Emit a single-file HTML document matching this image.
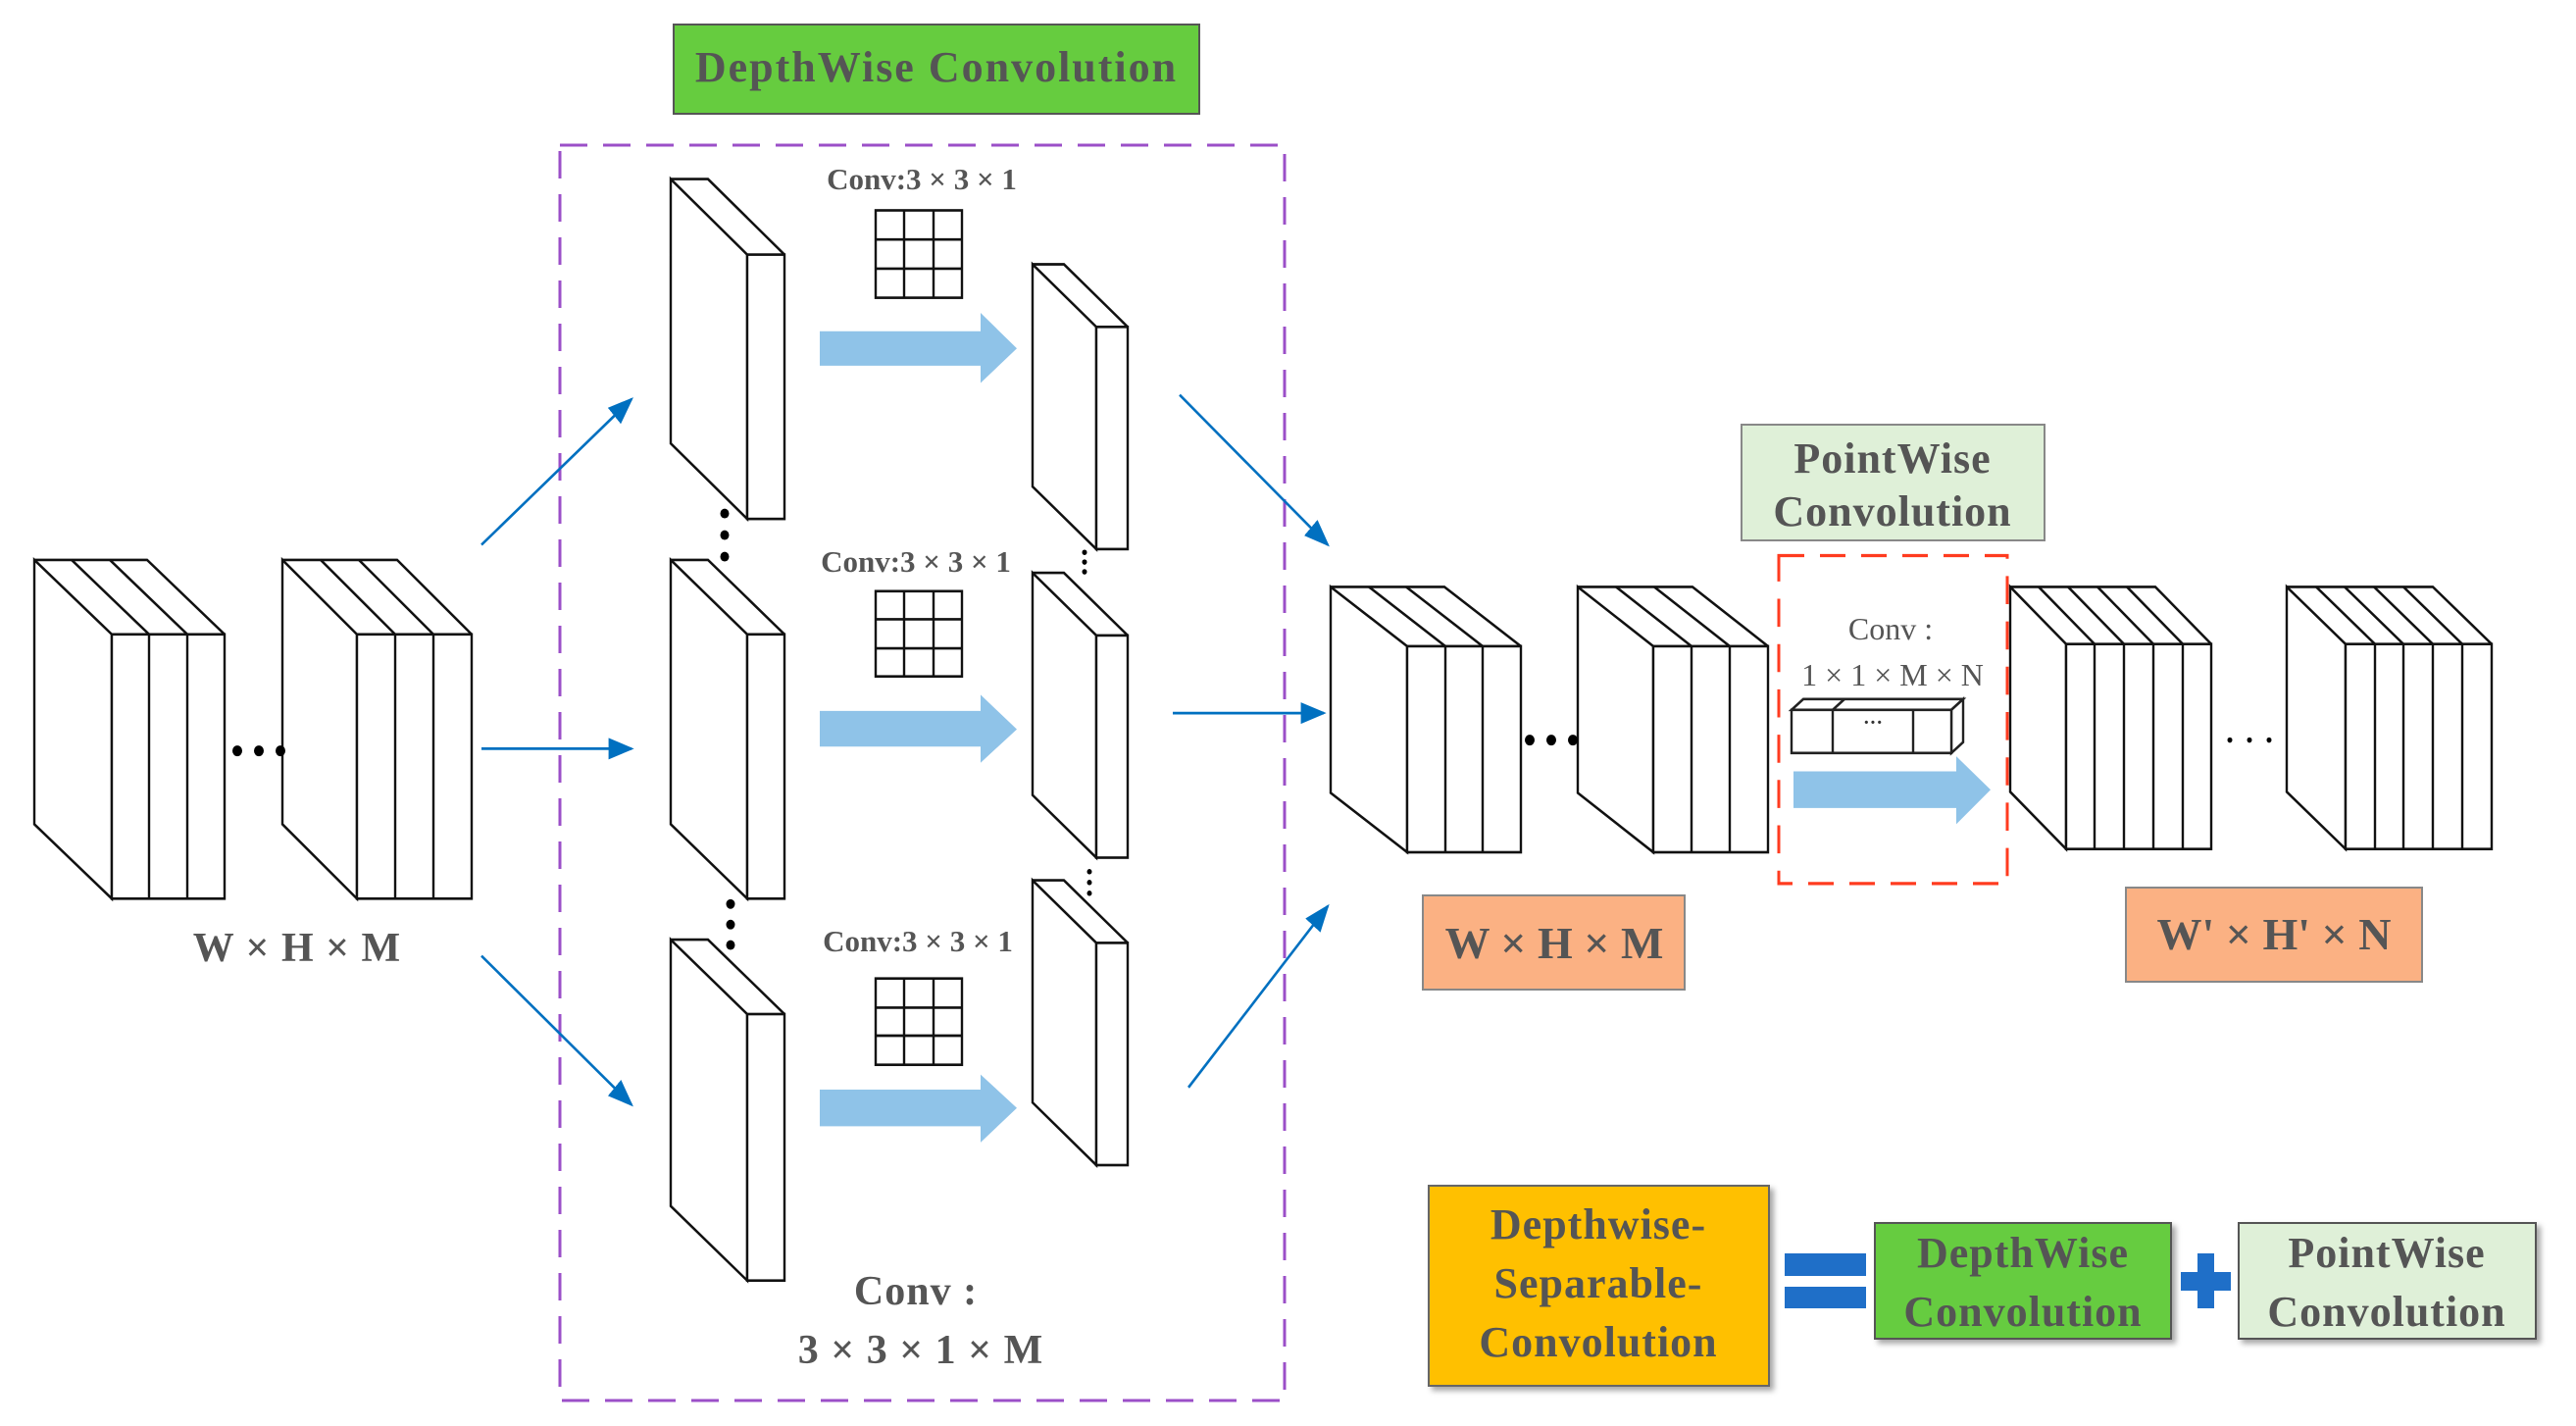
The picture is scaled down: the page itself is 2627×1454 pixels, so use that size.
<!DOCTYPE html>
<html><head><meta charset="utf-8"><style>
html,body{margin:0;padding:0;background:#fff}
svg{display:block}
text{font-family:"Liberation Serif",serif;font-weight:bold;fill:#555}
</style></head><body>
<svg width="2627" height="1454" viewBox="0 0 2627 1454" xmlns="http://www.w3.org/2000/svg">
<defs>
<marker id="ah2" viewBox="0 0 10 10" refX="9" refY="5" markerWidth="26" markerHeight="20" markerUnits="userSpaceOnUse" orient="auto" preserveAspectRatio="none"><path d="M0 0 L10 5 L0 10 Z" fill="#0070c0"/></marker>
<filter id="sh" x="-5%" y="-5%" width="115%" height="120%"><feDropShadow dx="4" dy="4" stdDeviation="3" flood-color="#000" flood-opacity="0.35"/></filter>
</defs>

<rect x="687" y="25" width="536" height="91" fill="#66cc3f" stroke="#555" stroke-width="2"/>
<text x="955" y="83" font-size="44" letter-spacing="2" text-anchor="middle">DepthWise Convolution</text>

<rect x="571" y="148" width="739" height="1280" fill="none" stroke="#9b4fc8" stroke-width="3" stroke-dasharray="28,16"/>

<g transform="scale(1,1.1)">
<g fill="#fff" stroke="#111" stroke-width="2.4" stroke-linejoin="miter">
<path d="M35 519 L114 588 L114 833 L35 764 Z"/>
<path d="M35 519 L150 519 L229 588" fill="none"/>
<rect x="114" y="588" width="115" height="245"/>
<path d="M152 588 V833 M191 588 V833 M73 519 L152 588 M112 519 L191 588" fill="none"/>
<path d="M288 519 L364 588 L364 833 L288 764 Z"/>
<path d="M288 519 L405 519 L481 588" fill="none"/>
<rect x="364" y="588" width="117" height="245"/>
<path d="M403 588 V833 M442 588 V833 M327 519 L403 588 M366 519 L442 588" fill="none"/>
<path d="M684 166 L762 236 L762 481 L684 411 Z"/>
<path d="M684 166 L722 166 L800 236" fill="none"/>
<rect x="762" y="236" width="38" height="245"/>
<path d="M684 519 L762 588 L762 833 L684 764 Z"/>
<path d="M684 519 L722 519 L800 588" fill="none"/>
<rect x="762" y="588" width="38" height="245"/>
<path d="M684 871 L762 940 L762 1187 L684 1118 Z"/>
<path d="M684 871 L722 871 L800 940" fill="none"/>
<rect x="762" y="940" width="38" height="247"/>
<path d="M1053 245 L1118 303 L1118 509 L1053 451 Z"/>
<path d="M1053 245 L1085 245 L1150 303" fill="none"/>
<rect x="1118" y="303" width="32" height="206"/>
<path d="M1053 531 L1118 589 L1118 795 L1053 737 Z"/>
<path d="M1053 531 L1085 531 L1150 589" fill="none"/>
<rect x="1118" y="589" width="32" height="206"/>
<path d="M1053 816 L1118 874 L1118 1080 L1053 1022 Z"/>
<path d="M1053 816 L1085 816 L1150 874" fill="none"/>
<rect x="1118" y="874" width="32" height="206"/>
<path d="M1357 544 L1435 599 L1435 790 L1357 735 Z"/>
<path d="M1357 544 L1473 544 L1551 599" fill="none"/>
<rect x="1435" y="599" width="116" height="191"/>
<path d="M1474 599 V790 M1512 599 V790 M1396 544 L1474 599 M1434 544 L1512 599" fill="none"/>
<path d="M1609 544 L1686 599 L1686 790 L1609 735 Z"/>
<path d="M1609 544 L1726 544 L1803 599" fill="none"/>
<rect x="1686" y="599" width="117" height="191"/>
<path d="M1725 599 V790 M1764 599 V790 M1648 544 L1725 599 M1687 544 L1764 599" fill="none"/>
<path d="M2050 544 L2107 597 L2107 787 L2050 734 Z"/>
<path d="M2050 544 L2198 544 L2255 597" fill="none"/>
<rect x="2107" y="597" width="148" height="190"/>
<path d="M2136 597 V787 M2166 597 V787 M2196 597 V787 M2226 597 V787 M2079 544 L2136 597 M2109 544 L2166 597 M2139 544 L2196 597 M2169 544 L2226 597" fill="none"/>
<path d="M2332 544 L2392 597 L2392 787 L2332 734 Z"/>
<path d="M2332 544 L2481 544 L2541 597" fill="none"/>
<rect x="2392" y="597" width="149" height="190"/>
<path d="M2422 597 V787 M2451 597 V787 M2481 597 V787 M2511 597 V787 M2362 544 L2422 597 M2391 544 L2451 597 M2421 544 L2481 597 M2451 544 L2511 597" fill="none"/>
</g>

<g fill="#fff" stroke="#111" stroke-width="2.4">
<rect x="893" y="195" width="88" height="81"/><path d="M922 195V276M952 195V276M893 222H981M893 249H981"/>
<rect x="893" y="548" width="88" height="79"/><path d="M922 548V627M952 548V627M893 574H981M893 601H981"/>
<rect x="893" y="907" width="88" height="80"/><path d="M922 907V987M952 907V987M893 934H981M893 960H981"/>
</g>

<g fill="#000">
<circle cx="242" cy="696" r="5"/><circle cx="264" cy="696" r="5"/><circle cx="286" cy="696" r="5"/>
<circle cx="1560" cy="686" r="5"/><circle cx="1582" cy="686" r="5"/><circle cx="1604" cy="686" r="5"/>
<circle cx="2274" cy="686" r="2.5"/><circle cx="2294" cy="686" r="2.5"/><circle cx="2314" cy="686" r="2.5"/>
<circle cx="739" cy="476" r="4.5"/><circle cx="739" cy="496" r="4.5"/><circle cx="739" cy="516" r="4.5"/>
<circle cx="745" cy="838" r="4.5"/><circle cx="745" cy="857" r="4.5"/><circle cx="745" cy="876" r="4.5"/>
<circle cx="1106" cy="512" r="2.5"/><circle cx="1106" cy="521" r="2.5"/><circle cx="1106" cy="530" r="2.5"/>
<circle cx="1111" cy="808" r="2.5"/><circle cx="1111" cy="818" r="2.5"/><circle cx="1111" cy="828" r="2.5"/>
</g>

<g fill="#8fc3e8">
<path d="M836 307 H1000 V290 L1037 323 L1000 355 V339 H836 Z"/>
<path d="M836 659 H1000 V644 L1037 676 L1000 707 V692 H836 Z"/>
<path d="M836 1010 H1000 V996 L1037 1027 L1000 1059 V1044 H836 Z"/>
<path d="M1829 715 H1995 V701 L2030 732 L1995 764 V749 H1829 Z"/>
</g>

<g stroke="#0070c0" stroke-width="2.5" fill="none">
<line x1="491" y1="505" x2="644" y2="370" marker-end="url(#ah2)"/>
<line x1="491" y1="694" x2="644" y2="694" marker-end="url(#ah2)"/>
<line x1="491" y1="886" x2="644" y2="1024" marker-end="url(#ah2)"/>
<line x1="1203" y1="366" x2="1354" y2="505" marker-end="url(#ah2)"/>
<line x1="1196" y1="661" x2="1350" y2="661" marker-end="url(#ah2)"/>
<line x1="1212" y1="1008" x2="1354" y2="840" marker-end="url(#ah2)"/>
</g>

<rect x="1814" y="515" width="233" height="304" fill="none" stroke="#ff3b1f" stroke-width="3" stroke-dasharray="26,16"/>
<g fill="#fff" stroke="#222" stroke-width="2.4">
<path d="M1827 658 L1839 648 L2002 648 L1990 658 Z"/>
<path d="M1990 658 L2002 648 L2002 688 L1990 698 Z"/>
<rect x="1827" y="658" width="163" height="40"/>
<path d="M1869 658 V698 M1951 658 V698 M1869 658 L1881 648" fill="none"/>
</g>
</g>

<text x="940" y="193" font-size="31" text-anchor="middle">Conv:3 × 3 × 1</text>
<text x="934" y="583" font-size="31" text-anchor="middle">Conv:3 × 3 × 1</text>
<text x="936" y="970" font-size="31" text-anchor="middle">Conv:3 × 3 × 1</text>
<text x="303" y="980" font-size="42" letter-spacing="1" text-anchor="middle">W × H × M</text>
<text x="934" y="1330" font-size="42" letter-spacing="1" text-anchor="middle">Conv :</text>
<text x="939" y="1390" font-size="42" letter-spacing="1" text-anchor="middle">3 × 3 × 1 × M</text>

<rect x="1776" y="433" width="309" height="118" fill="#dff0d8" stroke="#888" stroke-width="2"/>
<text x="1930" y="482" font-size="44" letter-spacing="1" text-anchor="middle">PointWise</text>
<text x="1930" y="536" font-size="44" letter-spacing="1" text-anchor="middle">Convolution</text>

<text x="1928" y="652" font-size="32" text-anchor="middle" style="font-weight:normal">Conv :</text>
<text x="1930" y="699" font-size="32" text-anchor="middle" style="font-weight:normal">1 × 1 × M × N</text>
<text x="1910" y="743" font-size="20" text-anchor="middle" style="fill:#333">···</text>

<rect x="1451" y="913" width="267" height="96" fill="#fbb183" stroke="#888" stroke-width="2"/>
<text x="1585" y="977" font-size="46" text-anchor="middle">W × H × M</text>
<rect x="2168" y="905" width="302" height="96" fill="#fbb183" stroke="#888" stroke-width="2"/>
<text x="2319" y="968" font-size="46" text-anchor="middle">W' × H' × N</text>

<rect x="1457" y="1209" width="347" height="204" fill="#ffc000" stroke="#666" stroke-width="2" filter="url(#sh)"/>
<text x="1630" y="1263" font-size="44" letter-spacing="1" text-anchor="middle">Depthwise-</text>
<text x="1630" y="1323" font-size="44" letter-spacing="1" text-anchor="middle">Separable-</text>
<text x="1630" y="1383" font-size="44" letter-spacing="1" text-anchor="middle">Convolution</text>
<rect x="1820" y="1278" width="83" height="23" fill="#1f6fc8"/>
<rect x="1820" y="1312" width="83" height="22" fill="#1f6fc8"/>
<rect x="1912" y="1247" width="302" height="118" fill="#66cc3f" stroke="#555" stroke-width="2" filter="url(#sh)"/>
<text x="2063" y="1292" font-size="44" letter-spacing="1" text-anchor="middle">DepthWise</text>
<text x="2063" y="1352" font-size="44" letter-spacing="1" text-anchor="middle">Convolution</text>
<rect x="2224" y="1297" width="51" height="19" fill="#1f6fc8"/>
<rect x="2241" y="1278" width="17" height="56" fill="#1f6fc8"/>
<rect x="2283" y="1247" width="303" height="118" fill="#dff0d8" stroke="#555" stroke-width="2" filter="url(#sh)"/>
<text x="2434" y="1292" font-size="44" letter-spacing="1" text-anchor="middle">PointWise</text>
<text x="2434" y="1352" font-size="44" letter-spacing="1" text-anchor="middle">Convolution</text>
</svg>
</body></html>
